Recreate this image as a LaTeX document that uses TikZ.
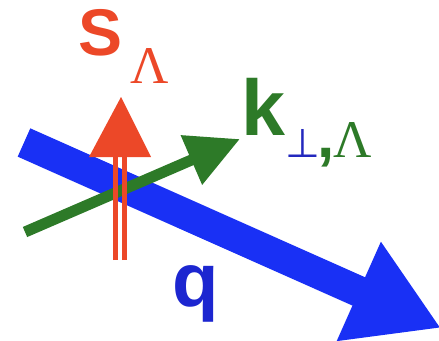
\documentclass[tikz,border=0pt]{standalone}
\usepackage{fontspec}
\newfontfamily\labelsans{Liberation Sans}
\newfontfamily\labelserif{Liberation Serif}
\newfontfamily\symfont{DejaVu Sans}
\usetikzlibrary{arrows.meta}
\definecolor{spinred}{RGB}{236,72,40}
\definecolor{kgreen}{RGB}{45,122,40}
\definecolor{qblue}{RGB}{25,48,245}
\definecolor{qtext}{RGB}{28,38,208}
\definecolor{perpblue}{RGB}{35,40,190}

\begin{document}
\begin{tikzpicture}[x=1pt,y=-1pt,
    lbl/.style={anchor=base west,inner sep=0pt,outer sep=0pt},
    bigsans/.style={font=\labelsans\bfseries\fontsize{#1}{#1}\selectfont},
    subserif/.style={font=\labelserif\fontsize{#1}{#1}\selectfont}]
  \useasboundingbox (0,0) rectangle (439,340);
  % end points of the three vectors
  \coordinate (q0) at (24,142.5);
  \coordinate (q1) at (441,328);
  \coordinate (k0) at (25,232);
  \coordinate (k1) at (240,139);
  \coordinate (s0) at (120,260);
  \coordinate (s1) at (121,97);
  \coordinate (sb) at (120,157);
  % momentum q
  \draw [line width=31pt,qblue,-{Triangle[length=90pt,width=102pt]}] (q0) -- (q1);
  % transverse momentum
  \draw [line width=11pt,kgreen,-{Triangle[length=53pt,width=51pt]}] (k0) -- (k1);
  % spin, drawn as a double line
  \foreach \dx in {-4.8,4.8}
    \draw [line width=5.3pt,spinred] ([xshift=\dx pt]s0) -- ([xshift=\dx pt]sb);
  \fill [spinred] (s1) -- ([xshift=-31pt]sb) -- ([xshift=31pt]sb) -- cycle;
  % labels
  \node (S) [lbl,bigsans=66,text=spinred] at (78,55) {S};
  \node (SL) [lbl,subserif=53,text=spinred] at (130,83) {Λ};
  \node (k) [lbl,bigsans=79,text=kgreen] at (241,135) {k};
  \node (ksub) [lbl,subserif=53,text=kgreen] at (285,157)
    {\textcolor{perpblue}{\symfont\fontsize{40}{40}\selectfont ⊥}\kern-2pt{\labelsans\bfseries\fontsize{62}{62}\selectfont ,}\kern-2pt Λ};
  \node (q) [lbl,bigsans=76,text=qtext] at (172,306) {q};
\end{tikzpicture}
\end{document}
